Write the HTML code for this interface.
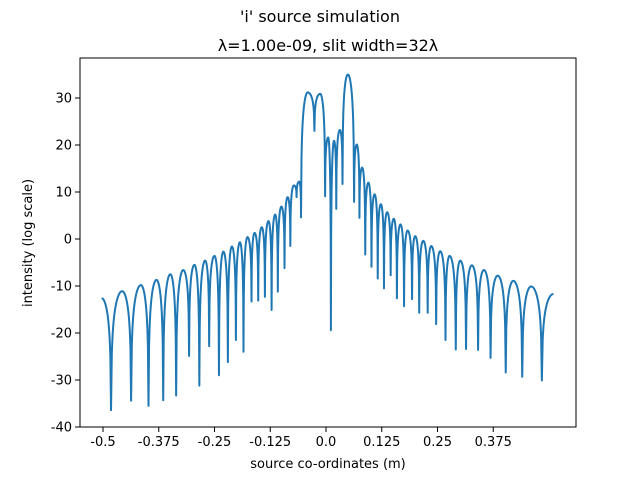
<!DOCTYPE html>
<html><head><meta charset="utf-8"><style>
body{margin:0;background:#fff;}
svg{display:block;font-family:"DejaVu Sans","Liberation Sans",sans-serif;}
</style></head><body>
<svg id="chart" width="640" height="480" viewBox="0 0 640 480">
<rect width="640" height="480" fill="#fff"/>
<text x="320" y="22" text-anchor="middle" font-size="16">'i' source simulation</text>
<text x="328" y="51" text-anchor="middle" font-size="16">λ=1.00e-09, slit width=32λ</text>
<g id="ticks"></g>
<path id="line" fill="none" stroke="#1f77b4" stroke-width="2" stroke-linejoin="round"/>
<rect x="80" y="58" width="496" height="369" fill="none" stroke="#000" stroke-width="1"/>
<text x="328" y="468" text-anchor="middle" font-size="13">source co-ordinates (m)</text>
<text transform="translate(32,243) rotate(-90)" text-anchor="middle" font-size="13">intensity (log scale)</text>
</svg>
<script>
// extrema (alternating peak/trough)
const xs = [-0.503,-0.482,-0.457,-0.437,-0.415,-0.398,-0.380,-0.365,-0.349,-0.336,-0.320,-0.307,-0.295,-0.284,-0.271,-0.262,-0.250,-0.240,-0.230,-0.220,-0.211,-0.202,-0.193,-0.185,-0.176,-0.167,-0.160,-0.152,-0.144,-0.137,-0.129,-0.122,-0.114,-0.108,-0.100,-0.093,-0.086,-0.080,-0.072,-0.066,-0.060,-0.056,-0.041,-0.026,-0.013,-0.002,0.005,0.011,0.018,0.023,0.031,0.037,0.049,0.063,0.069,0.075,0.081,0.088,0.095,0.102,0.109,0.116,0.123,0.130,0.137,0.145,0.152,0.159,0.167,0.175,0.183,0.193,0.200,0.209,0.218,0.228,0.236,0.247,0.256,0.268,0.277,0.291,0.301,0.314,0.327,0.341,0.354,0.369,0.385,0.403,0.420,0.440,0.460,0.484,0.510];
const ys = [-12.6,-36.4,-11.1,-34.4,-9.8,-35.5,-8.7,-34.3,-7.5,-33.3,-6.6,-24.9,-5.5,-31.2,-4.6,-22.8,-3.6,-29.0,-2.7,-26.2,-1.6,-21.5,-0.7,-24.0,0.4,-13.3,1.3,-13.1,2.5,-12.3,3.8,-15.1,5.2,-11.2,6.9,-6.2,8.9,-1.5,11.4,8.9,12.2,4.6,31.2,23.0,30.9,9.1,21.6,-19.4,20.9,6.4,23.2,11.7,35.0,7.9,20.1,4.5,15.2,-3.3,12.0,-5.9,9.5,-8.4,7.4,-10.5,5.7,-7.7,4.3,-12.6,3.1,-14.3,1.8,-12.8,0.6,-15.7,-0.4,-15.7,-1.5,-18.1,-2.6,-21.5,-3.6,-23.5,-4.6,-23.4,-5.6,-23.6,-6.6,-25.3,-7.8,-28.4,-8.9,-29.3,-10.1,-30.1,-11.7];
const yTicks = [-40,-30,-20,-10,0,10,20,30];
const xTicks = [-0.5,-0.375,-0.25,-0.125,0.0,0.125,0.25,0.375];
const xTickLabels = ["-0.5","-0.375","-0.25","-0.125","0.0","0.125","0.25","0.375"];

const X = v => 326 + 446*v;
const Y = v => 239 - 4.7*v;
const NS = "http://www.w3.org/2000/svg";
const tg = document.getElementById('ticks');
function mk(tag, attrs){const e=document.createElementNS(NS,tag);for(const k in attrs)e.setAttribute(k,attrs[k]);return e;}
yTicks.forEach(v=>{
  const l=mk('line',{x1:75,x2:80,y1:Y(v),y2:Y(v),stroke:'#000'});
  
  
  tg.appendChild(l);
  const t=mk('text',{x:72,y:Y(v)+4.5,'text-anchor':'end','font-size':13});
  
  
  t.textContent=String(v); tg.appendChild(t);
});
xTicks.forEach((v,i)=>{
  const l=mk('line',{x1:X(v),x2:X(v),y1:427,y2:432,stroke:'#000'});
  
  
  tg.appendChild(l);
  const t=mk('text',{x:X(v),y:446,'text-anchor':'middle','font-size':13});
  
  
  t.textContent=xTickLabels[i]; tg.appendChild(t);
});
// interpolate between extrema with a log-cosine shape (sharp troughs, rounded peaks)
const eps=0.02, f0=Math.log(1+eps), f1=Math.log(eps);
function shape(u){return (Math.log(Math.cos(Math.PI*u/2)+eps)-f0)/(f1-f0);}
let d='M'+X(xs[0]).toFixed(2)+' '+Y(ys[0]).toFixed(2);
for(let i=0;i<xs.length-1;i++){
  const a=ys[i], b=ys[i+1], up=b>a;
  const N=14;
  for(let k=1;k<=N;k++){
    const u=k/N;
    const x=xs[i]+(xs[i+1]-xs[i])*u;
    let y;
    if(!up){ y=a+(b-a)*shape(u); }           // peak -> trough
    else { y=b+(a-b)*shape(1-u); }           // trough -> peak
    d+=' L'+X(x).toFixed(2)+' '+Y(y).toFixed(2);
  }
}
document.getElementById('line').setAttribute('d',d);
</script>
</body></html>
